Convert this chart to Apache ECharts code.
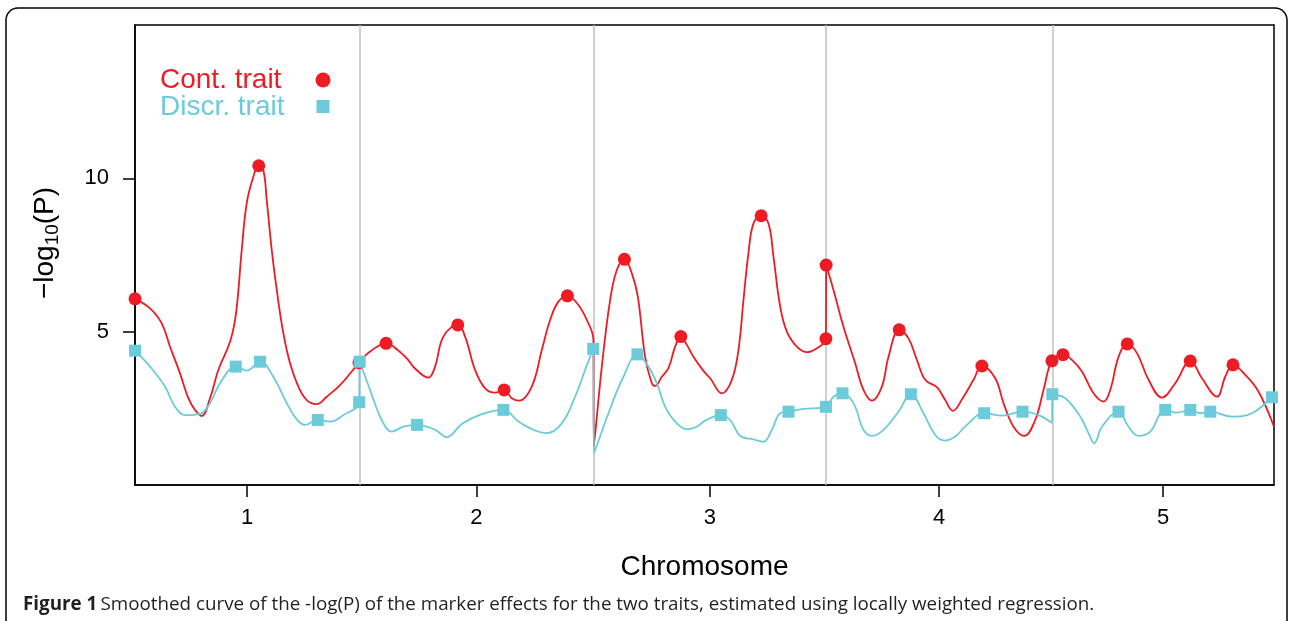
<!DOCTYPE html>
<html><head><meta charset="utf-8">
<script src="https://cdn.jsdelivr.net/npm/echarts@6/dist/echarts.min.js"></script>
<style>html,body{margin:0;padding:0;background:#fff;}#chart{width:1290px;height:621px;}</style>
</head><body><div id="chart"></div>
<script>
// Chromosome boundaries (cumulative map position) and names
const chrBounds = [0, 99.7, 203.7, 307.1, 407.6, 506.1];
const chrNames = ['1', '2', '3', '4', '5'];
const yTicks = [5, 10];

// Smoothed -log10(P) curve, continuous trait: [position, value]
const contCurve = [[0,6.07],[6.67,5.76],[11.87,5.27],[15.56,4.51],[20.0,3.64],[23.69,2.83],[26.67,2.45],[29.64,2.25],[33.33,2.83],[37.02,3.75],[42.22,4.67],[44.89,5.6],[47.42,7.66],[49.64,9.19],[52.58,10.05],[54.98,10.41],[57.02,10.27],[58.53,9.29],[60.76,7.66],[62.98,6.36],[65.91,4.95],[68.89,3.97],[72.58,3.21],[76.31,2.77],[80.76,2.64],[85.2,2.88],[91.11,3.26],[96.31,3.70],[99.5,3.99],[104.44,4.35],[111.56,4.62],[116.31,4.43],[120.76,4.13],[124.4,3.80],[130.36,3.50],[133.33,3.86],[137.02,4.84],[143.42,5.22],[146.67,4.84],[151.11,3.75],[155.56,3.15],[160.0,3.01],[164.0,3.10],[167.42,2.83],[170.67,2.75],[176.31,3.21],[180.76,4.40],[184.44,5.38],[188.13,5.98],[192.13,6.17],[197.02,5.87],[200.76,5.38],[203.69,4.73],[203.9,1.25],[207.42,3.86],[211.11,6.03],[214.09,7.01],[217.47,7.36],[220.76,6.90],[223.42,6.14],[226.67,4.18],[229.64,3.32],[231.11,3.23],[234.09,3.53],[237.02,3.81],[240.0,4.51],[242.53,4.84],[245.2,4.57],[248.13,4.18],[252.58,3.72],[255.56,3.48],[260.76,2.99],[265.2,3.43],[268.13,4.40],[270.36,6.03],[272.58,7.56],[274.8,8.53],[278.22,8.78],[281.47,8.53],[283.69,7.45],[286.67,5.82],[289.64,5.00],[294.09,4.51],[298.53,4.33],[302.98,4.46],[307.0,4.77],[307.1,7.17],[310.36,6.36],[314.8,5.16],[320,3.97],[323.69,3.10],[327.42,2.75],[331.87,3.21],[334.8,4.18],[339.56,5.06],[343.69,4.78],[347.42,4.08],[351.11,3.43],[356.31,3.19],[360,2.77],[363.42,2.42],[368.13,2.88],[372.58,3.43],[376.31,3.88],[382.22,3.48],[385.91,2.67],[390.36,1.90],[395.11,1.60],[400,2.12],[403.69,3.10],[407.42,4.05],[412.31,4.25],[416.31,4.08],[420.76,3.70],[425.91,2.99],[430.36,2.72],[433.33,3.10],[437.02,4.18],[440.89,4.60],[445.2,4.30],[450.36,3.43],[456.31,2.85],[462.22,3.32],[468.89,4.04],[474.09,3.48],[480.76,2.88],[484.44,3.53],[487.87,3.92],[493.33,3.59],[499.24,3.04],[506.1,1.9]];

// Smoothed -log10(P) curve, discrete trait
const discCurve = [[0,4.38],[6.67,3.86],[13.33,3.21],[17.78,2.55],[22.22,2.28],[28.89,2.32],[33.33,2.67],[37.78,3.32],[44.76,3.86],[49.64,3.73],[55.56,4.02],[61.47,3.53],[67.42,2.67],[71.87,2.14],[75.56,1.96],[81.2,2.12],[86.67,2.07],[92.58,2.28],[99.6,2.70],[99.8,4.02],[104.44,3.10],[109.64,2.12],[114.09,1.74],[119.24,1.90],[125.3,1.96],[133.33,1.80],[138.53,1.56],[145.2,1.99],[154.09,2.31],[163.69,2.45],[170.36,2.07],[176.31,1.82],[182.98,1.69],[189.64,2.01],[195.56,2.88],[200,3.75],[203.6,4.44],[204,1.04],[210.36,2.34],[217.02,3.53],[223.24,4.26],[228.13,3.86],[231.87,3.32],[235.56,2.55],[240,2.07],[245.2,1.82],[249.64,1.90],[253.33,2.10],[260.31,2.28],[264.44,2.12],[268.89,1.60],[274.8,1.49],[279.24,1.41],[282.98,1.80],[286.67,2.34],[290.36,2.39],[297.02,2.48],[307.0,2.55],[310.36,2.88],[314.36,2.99],[319.24,2.67],[323.69,1.80],[327.42,1.60],[332.58,1.80],[339.24,2.39],[344.76,2.96],[350.36,2.34],[355.56,1.63],[360,1.45],[364.44,1.58],[369.64,1.96],[377.33,2.34],[385.2,2.26],[394.36,2.39],[401.47,2.28],[407.42,2.03],[407.6,2.96],[413.33,2.83],[420,2.23],[423.69,1.69],[426.22,1.36],[429.64,1.90],[437.02,2.39],[441.47,1.90],[445.91,1.60],[451.11,1.74],[457.78,2.45],[462.98,2.36],[468.89,2.45],[473.33,2.34],[477.78,2.39],[487.42,2.23],[496.31,2.34],[505.2,2.86],[506.1,2.95]];

// Highlighted marker points
const contMarks = [[0,6.07],[54.98,10.41],[99.5,3.99],[111.56,4.62],[143.42,5.22],[164.0,3.10],[192.13,6.17],[217.47,7.36],[242.53,4.84],[278.22,8.78],[307.0,4.77],[307.1,7.17],[339.56,5.06],[376.31,3.88],[407.42,4.05],[412.31,4.25],[440.89,4.60],[468.89,4.04],[487.87,3.92]];
const discMarks = [[0,4.38],[44.76,3.86],[55.56,4.02],[81.2,2.12],[99.6,2.70],[99.8,4.02],[125.3,1.96],[163.69,2.45],[203.6,4.44],[223.24,4.26],[260.31,2.28],[290.36,2.39],[307.0,2.55],[314.36,2.99],[344.76,2.96],[377.33,2.34],[394.36,2.39],[407.6,2.96],[437.02,2.39],[457.78,2.45],[468.89,2.45],[477.78,2.39],[505.2,2.86]];

const RED = '#ed1c24';
const CYAN = '#6ccbdb';
const FONT = '"Liberation Sans", Arial, Helvetica, sans-serif';
const CAPFONT = '"Open Sans", sans-serif';

const centers = chrNames.map((n, i) => (chrBounds[i] + chrBounds[i + 1]) / 2);
const chart = echarts.init(document.getElementById('chart'), null, {renderer: 'canvas'});

const option = {
  animation: false,
  backgroundColor: '#ffffff',
  grid: {left: 135, right: 16, top: 25, bottom: 136, show: true, borderColor: '#000', borderWidth: 1.5, backgroundColor: 'transparent'},
  xAxis: {
    type: 'value', min: chrBounds[0], max: chrBounds[chrBounds.length - 1],
    axisLine: {show: true, onZero: false, lineStyle: {color: '#000', width: 1.5}},
    axisTick: {show: true, customValues: centers, length: 12, lineStyle: {color: '#000', width: 1.5}},
    axisLabel: {
      customValues: centers, margin: 22, fontSize: 22, color: '#000', fontFamily: FONT,
      formatter: function (v) {
        const i = centers.findIndex(c => Math.abs(c - v) < 1e-6);
        return i >= 0 ? chrNames[i] : '';
      }
    },
    splitLine: {show: false},
    name: 'Chromosome', nameLocation: 'middle', nameGap: 68,
    nameTextStyle: {fontSize: 28, color: '#000', fontFamily: FONT}
  },
  yAxis: {
    type: 'value', min: 0, max: 15,
    axisLine: {show: true, onZero: false, lineStyle: {color: '#000', width: 1.5}},
    axisTick: {show: true, customValues: yTicks, length: 12, lineStyle: {color: '#000', width: 1.5}},
    axisLabel: {customValues: yTicks, margin: 26, fontSize: 22, color: '#000', fontFamily: FONT},
    splitLine: {show: false}
  },
  graphic: [
    {type: 'rect', z: -10, shape: {x: 6, y: 8, width: 1281, height: 660, r: 12}, style: {fill: 'none', stroke: '#000', lineWidth: 1.5}},
    {type: 'text', x: 160, y: 80, style: {text: 'Cont. trait', fill: RED, fontSize: 28, fontFamily: FONT, verticalAlign: 'middle', align: 'left'}},
    {type: 'text', x: 160, y: 107, style: {text: 'Discr. trait', fill: CYAN, fontSize: 28, fontFamily: FONT, verticalAlign: 'middle', align: 'left'}},
    {type: 'circle', shape: {cx: 323, cy: 80, r: 7.5}, style: {fill: RED}},
    {type: 'rect', shape: {x: 316.5, y: 100, width: 13, height: 13}, style: {fill: CYAN}},
    {type: 'text', x: 45, y: 243, rotation: Math.PI / 2,
      style: {
        text: '{n|\u2212log}{s|10}{n|(P)}', align: 'center', verticalAlign: 'middle', fill: '#000',
        rich: {
          n: {fontSize: 28, fontFamily: FONT, fill: '#000', lineHeight: 34, verticalAlign: 'middle'},
          s: {fontSize: 19, fontFamily: FONT, fill: '#000', lineHeight: 19, verticalAlign: 'bottom'}
        }
      }},
    {type: 'text', x: 23, y: 605,
      style: {
        text: '{b|Figure 1} {n|Smoothed curve of the -log(P) of the marker effects for the two traits, estimated using locally weighted regression.}',
        verticalAlign: 'middle', align: 'left', fill: '#231f20',
        rich: {
          b: {fontSize: 18.8, fontWeight: 'bold', fontFamily: CAPFONT, fill: '#231f20'},
          n: {fontSize: 18.8, fontFamily: CAPFONT, fill: '#231f20'}
        }
      }}
  ],
  series: [
    {
      name: 'boundaries', type: 'line', data: [], silent: true, z: 1,
      markLine: {
        z: 1, silent: true, symbol: ['none', 'none'], label: {show: false},
        lineStyle: {color: '#c0c0c0', type: 'solid', width: 1.5},
        emphasis: {disabled: true},
        data: chrBounds.slice(1, chrBounds.length - 1).map(b => ({xAxis: b}))
      }
    },
    {name: 'Cont. trait', type: 'line', data: contCurve, showSymbol: false, symbol: 'none', smooth: 0.4, z: 3,
      lineStyle: {color: RED, width: 1.8}, silent: true},
    {name: 'Discr. trait', type: 'line', data: discCurve, showSymbol: false, symbol: 'none', smooth: 0.4, z: 3,
      lineStyle: {color: CYAN, width: 1.8}, silent: true},
    {name: 'Cont. marks', type: 'scatter', data: contMarks, symbol: 'circle', symbolSize: 13, z: 4, itemStyle: {color: RED, opacity: 1}, silent: true, clip: false},
    {name: 'Discr. marks', type: 'scatter', data: discMarks, symbol: 'rect', symbolSize: 12, z: 5, itemStyle: {color: CYAN, opacity: 1}, silent: true, clip: false}
  ]
};
chart.setOption(option);
</script>
</body></html>
